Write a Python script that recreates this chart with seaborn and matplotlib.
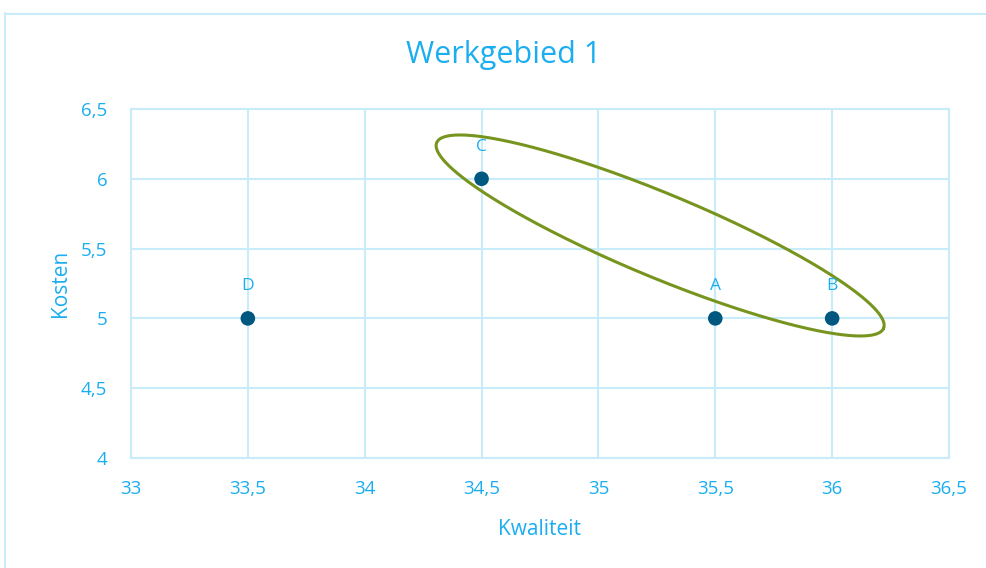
import numpy as np
import pandas as pd
import matplotlib
matplotlib.use("Agg")
import matplotlib.pyplot as plt
from matplotlib.ticker import MultipleLocator, FuncFormatter
from matplotlib.lines import Line2D
import seaborn as sns

# Data
labels = ["A", "B", "C", "D"]
kwaliteit = [35.5, 36.0, 34.5, 33.5]
kosten = [5.0, 5.0, 6.0, 5.0]

x_ticks_range = (33.0, 36.5)
y_ticks_range = (4.0, 6.5)

# Highlight ellipse around A, B, C (centre plus two conjugate semi-axes, data units)
ellipse_center = (35.264, 5.594)
ellipse_u = (0.956, -0.665)
ellipse_v = (-0.0685, -0.276)

TEXT = "#1AAEF0"
GRID = "#C8ECFA"
POINT = "#00577F"
ELLIPSE = "#77951E"

sns.set_style("white")
plt.rcParams["font.family"] = ["Open Sans", "DejaVu Sans"]

df = pd.DataFrame({"Kwaliteit": kwaliteit, "Kosten": kosten, "label": labels})

fig = plt.figure(figsize=(9.87, 5.68), dpi=100)
ax = fig.add_axes([131 / 987, 1 - 458 / 568, (949 - 131) / 987, (458 - 109) / 568])

sns.scatterplot(data=df, x="Kwaliteit", y="Kosten", ax=ax, s=110,
                color=POINT, edgecolor="none", zorder=4, clip_on=False)

for _, r in df.iterrows():
    ax.annotate(r["label"], (r["Kwaliteit"], r["Kosten"]), xytext=(0, 23),
                textcoords="offset points", ha="center", va="center",
                fontsize=12.5, color=TEXT, zorder=5)

t = np.linspace(0, 2 * np.pi, 400)
ex = ellipse_center[0] + ellipse_u[0] * np.cos(t) + ellipse_v[0] * np.sin(t)
ey = ellipse_center[1] + ellipse_u[1] * np.cos(t) + ellipse_v[1] * np.sin(t)
ax.plot(ex, ey, color=ELLIPSE, lw=2.2, zorder=3)

ax.set_xlim(*x_ticks_range)
ax.set_ylim(*y_ticks_range)
ax.xaxis.set_major_locator(MultipleLocator(0.5))
ax.yaxis.set_major_locator(MultipleLocator(0.5))
fmt = FuncFormatter(lambda v, p: ("%g" % v).replace(".", ","))
ax.xaxis.set_major_formatter(fmt)
ax.yaxis.set_major_formatter(fmt)

ax.grid(True, color=GRID, lw=1.5, zorder=0)
ax.set_axisbelow(True)
for sp in ax.spines.values():
    sp.set_visible(True)
    sp.set_color(GRID)
    sp.set_linewidth(1.5)

ax.tick_params(axis="x", length=0, pad=16, labelsize=13.5, labelcolor=TEXT)
ax.tick_params(axis="y", length=0, pad=17, labelsize=13.5, labelcolor=TEXT)

ax.set_xlabel("Kwaliteit", fontsize=15, color=TEXT, labelpad=15)
ax.set_ylabel("Kosten", fontsize=15, color=TEXT, labelpad=7)
fig.text(504 / 987, 1 - 55 / 568, "Werkgebied 1", fontsize=22, color=TEXT,
         ha="center", va="center")

# Chart area frame
fig.add_artist(Line2D([5.5 / 987, 5.5 / 987], [0, 1 - 13 / 568],
                      transform=fig.transFigure, color=GRID, lw=1.5))
fig.add_artist(Line2D([5.5 / 987, 1], [1 - 13.5 / 568, 1 - 13.5 / 568],
                      transform=fig.transFigure, color=GRID, lw=1.5))

fig.savefig("out.png", dpi=100)
